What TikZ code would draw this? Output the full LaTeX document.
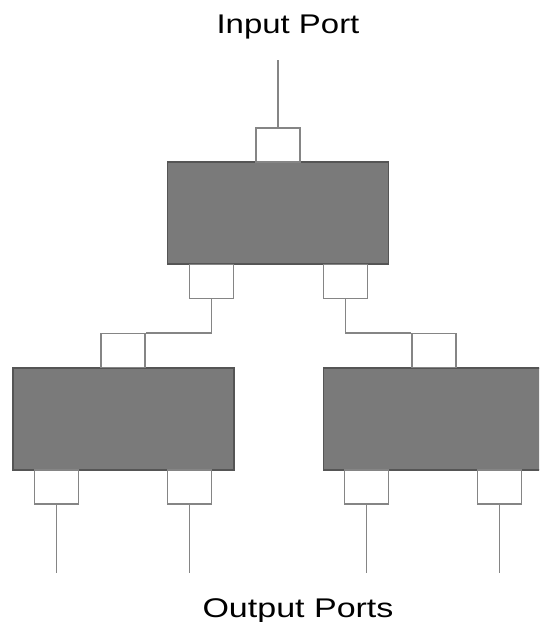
\documentclass[tikz,border=0pt]{standalone}
\usepackage{fontspec}
\setmainfont{Liberation Sans}
\definecolor{blockfill}{HTML}{7A7A7A}
\definecolor{blockline}{HTML}{555555}
\definecolor{wire}{HTML}{858585}
\begin{document}
\begin{tikzpicture}[x=1pt,y=-1pt,
  block/.style={draw=blockline,line width=1.6pt,fill=blockfill,inner sep=0pt,minimum width=221pt,minimum height=102pt},
  port/.style={draw=wire,line width=1.6pt,fill=white,inner sep=0pt,minimum width=44pt,minimum height=34pt},
  wireline/.style={draw=wire,line width=1.6pt},
  lbl/.style={inner sep=0pt,font=\fontsize{27}{30}\selectfont}]
\useasboundingbox (0,0) rectangle (539,622);
\clip (0,0) rectangle (539,622);
% labels
\node[lbl,anchor=base] (inlbl) at (288,33) {\scalebox{1.22}[1]{Input Port}};
\node[lbl,anchor=base] (outlbl) at (298,617) {\scalebox{1.26}[1]{Output Ports}};
% blocks
\node[block] (top) at (278,213) {};
\node[block] (left) at (123.5,419) {};
\node[block] (right) at (434,419) {};
% ports of top block
\node[port] (tin) at (278,145) {};
\node[port] (tol) at (211.5,281.5) {};
\node[port] (tor) at (345.5,281.5) {};
% ports of left block
\node[port] (lin) at (123,350.5) {};
\node[port] (lol) at (56.5,487) {};
\node[port] (lor) at (189.5,487) {};
% ports of right block
\node[port] (rin) at (434,350.5) {};
\node[port] (rol) at (366.5,487) {};
\node[port] (ror) at (499.5,487) {};
% free ends
\coordinate (inend) at (278,60);
\coordinate (o1) at (56.5,573);
\coordinate (o2) at (189.5,573);
\coordinate (o3) at (366.5,573);
\coordinate (o4) at (499.5,573);
% wires
\draw[wireline] (inend) -- (tin.north);
\draw[wireline] (tol.south) |- (lin.north east);
\draw[wireline] (tor.south) |- (rin.north west);
\draw[wireline] (lol.south) -- (o1);
\draw[wireline] (lor.south) -- (o2);
\draw[wireline] (rol.south) -- (o3);
\draw[wireline] (ror.south) -- (o4);
\end{tikzpicture}
\end{document}
